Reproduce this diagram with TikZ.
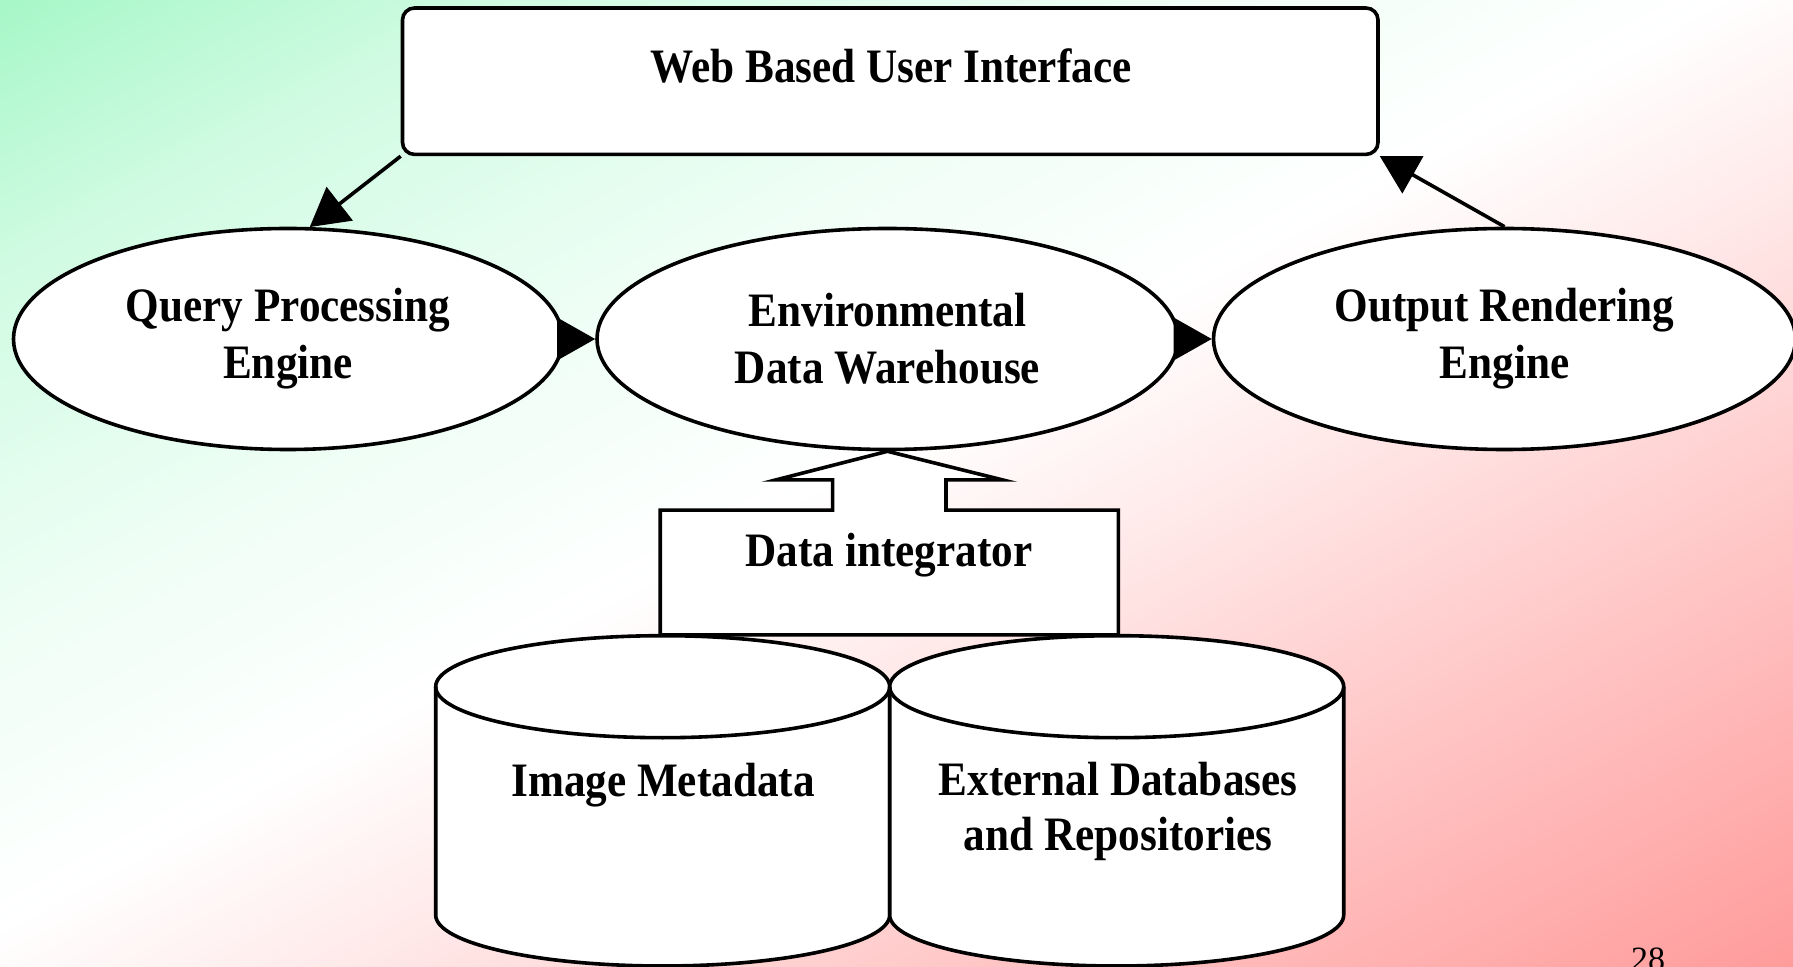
\documentclass[tikz,border=0pt]{standalone}
\usepackage{fontspec}
\setmainfont{Liberation Serif}[FakeStretch=0.9]
\newfontfamily\plainserif{Liberation Serif}
\usetikzlibrary{arrows.meta,shapes.geometric,calc}

% slide background colours, green (top left) through white to red (bottom right)
\definecolor{bgA}{RGB}{166,247,200}
\definecolor{bgB}{RGB}{208,251,226}
\definecolor{bgC}{RGB}{238,254,245}
\definecolor{bgD}{RGB}{255,238,238}
\definecolor{bgE}{RGB}{255,200,200}
\definecolor{bgF}{RGB}{255,155,155}
% the ramp runs over 25bp..75bp, which is the full width of the shaded path
\pgfdeclarehorizontalshading{slidebg}{100bp}{
  color(0bp)=(bgA); color(25bp)=(bgA); color(32bp)=(bgB); color(41bp)=(bgC);
  color(49bp)=(white); color(53.5bp)=(bgD); color(63bp)=(bgE);
  color(75bp)=(bgF); color(100bp)=(bgF)}

\tikzset{
  lbl/.style={font=\bfseries\fontsize{24}{28.5}\selectfont, align=center, inner sep=0pt},
  proc/.style={ellipse, draw, fill=white, minimum height=110.5pt, inner sep=0pt, lbl},
  conn/.style={-{Triangle[length=19pt,width=21pt]}},
  shapeline/.style={draw, fill=white, line join=miter},
}

\begin{document}
\begin{tikzpicture}[x=0.5pt, y=-0.5pt, line width=1.8pt]
  \useasboundingbox (0,0) rectangle (1793,967);
  % background: a horizontal ramp on a parallelogram, mapped so that the
  % ramp runs from the top left corner to the bottom right corner
  \begin{scope}[overlay, transform canvas={cm={8.965,-4.835,8.965,4.835,(0pt,0pt)}}]
    \shade[shading=slidebg] (0pt,0pt) -- (50pt,50pt) -- (100pt,0pt) -- (50pt,-50pt) -- cycle;
  \end{scope}

  % user interface box
  \node[draw, fill=white, rounded corners=6pt, minimum width=487.75pt,
        minimum height=73.2pt, inner sep=0pt] (ui) at (890.25,81.2) {};
  \node[lbl] (uitext) at (891,66) {Web Based User Interface};

  % processing engines and warehouse
  \node[proc, minimum width=274.5pt] (qpe) at (288,339) {Query Processing\\Engine};
  \node[proc, minimum width=290.5pt] (edw) at (887.5,339) {Environmental\\Data Warehouse};
  \node[proc, minimum width=291pt] (ore) at (1504.5,339) {Output Rendering\\Engine};

  \draw[conn] (ui.south west) -- (qpe.79);
  \draw[conn] (qpe.east) -- (edw.west);
  \draw[conn] (edw.east) -- (ore.west);
  \draw[conn] (ore.north) -- (ui.south east);

  % data stores
  \draw[shapeline] (435.7,686.7) -- (435.7,915)
     arc[start angle=180, end angle=0, x radius=227, y radius=51] -- (889.7,686.7)
     arc[start angle=0, end angle=-180, x radius=227, y radius=51] -- cycle;
  \draw (435.7,686.7) arc[start angle=180, end angle=0, x radius=227, y radius=51];
  \draw[shapeline] (889.7,686.7) -- (889.7,915)
     arc[start angle=180, end angle=0, x radius=227, y radius=51] -- (1343.7,686.7)
     arc[start angle=0, end angle=-180, x radius=227, y radius=51] -- cycle;
  \draw (889.7,686.7) arc[start angle=180, end angle=0, x radius=227, y radius=51];
  \node[lbl] (imd) at (663,785) {Image Metadata};
  \node[lbl, anchor=north, font=\bfseries\fontsize{24}{27.5}\selectfont] (ext) at (1118,760) {External Databases\\and Repositories};

  % data integrator with its block arrow into the warehouse
  \node[minimum width=227.25pt, minimum height=60.5pt, inner sep=0pt] (din) at (889.25,572.5) {};
  \draw[shapeline] (din.south west) -- (din.north west)
     -- ($(din.north)+(-56.7,0)$) -- ++(0,-30.3) -- ++(-56.6,0)
     -- (edw.south)
     -- ($(din.north)+(113.3,-30.3)$) -- ++(-56.6,0) -- ++(0,30.3)
     -- (din.north east) -- (din.south east) -- cycle;
  \node[lbl] (dintext) at (889,555) {Data integrator};

  % slide number
  \node[font=\plainserif\fontsize{17}{20}\selectfont, anchor=base, inner sep=0pt] (pg) at (1648,970) {28};
\end{tikzpicture}
\end{document}
